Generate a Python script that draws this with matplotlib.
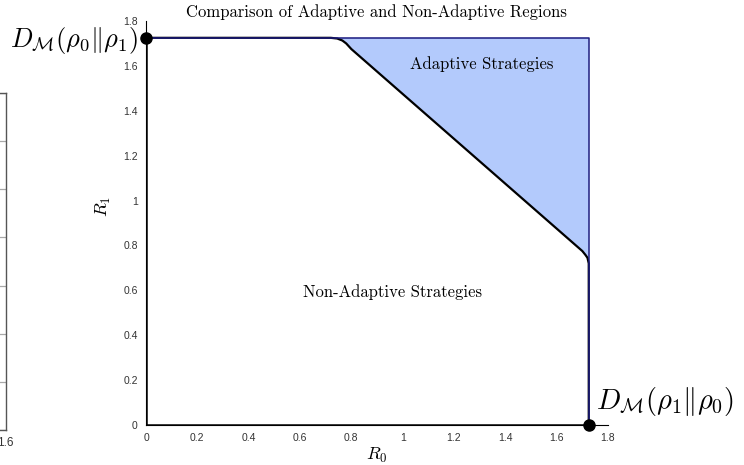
import matplotlib
matplotlib.use("Agg")
import matplotlib.pyplot as plt

plt.rcParams['mathtext.fontset'] = 'cm'
plt.rcParams['axes.unicode_minus'] = False

# divergence value at both ends of the region
D = 1.725

# non-adaptive boundary (R0, R1)
curve_r0 = [0.0, 0.72, 0.745, 0.765, 0.78, 0.80, 1.0, 1.2, 1.4, 1.6, 1.68, 1.70, 1.712, 1.72, 1.725, 1.725]
curve_r1 = [1.725, 1.725, 1.722, 1.713, 1.70, 1.675, 1.475, 1.275, 1.075, 0.875, 0.795, 0.775, 0.758, 0.745, 0.72, 0.0]

tick_vals = [0, 0.2, 0.4, 0.6, 0.8, 1.0, 1.2, 1.4, 1.6, 1.8]
tick_labels = ['0', '0.2', '0.4', '0.6', '0.8', '1', '1.2', '1.4', '1.6', '1.8']

title = 'Comparison of Adaptive and Non-Adaptive Regions'
label_top = r'$D_{\mathcal{M}}(\rho_0\|\rho_1)$'
label_bottom = r'$D_{\mathcal{M}}(\rho_1\|\rho_0)$'

# neighbouring panel that is cut off at the left edge
left_xlim = (0, 1.6)
left_ylim = (0, 7)

W, H = 744, 465
fig = plt.figure(figsize=(W / 100, H / 100), dpi=100)

# --- clipped neighbour panel ---
axl = fig.add_axes([-0.4, 35 / H, 0.4 + 5.5 / W, (430 - 93) / H])
axl.set_xlim(*left_xlim)
axl.set_ylim(*left_ylim)
axl.set_yticks(range(left_ylim[1] + 1))
axl.yaxis.grid(True, color='#a8a8a8', lw=0.9)
axl.set_yticklabels([])
axl.set_xticks([1.6])
axl.set_xticklabels(['1.6'], fontname='Liberation Sans', fontsize=8.5, color='#333333')
axl.tick_params(length=0, pad=5)
for s in axl.spines.values():
    s.set_color('#555555')
    s.set_linewidth(1.0)

# --- main panel ---
ax = fig.add_axes([146 / W, 40 / H, 462 / W, 404 / H])
ax.set_xlim(0, 1.8)
ax.set_ylim(0, 1.8)
ax.spines['top'].set_visible(False)
ax.spines['right'].set_visible(False)
ax.spines['left'].set_linewidth(0.8)
ax.spines['bottom'].set_linewidth(0.8)

# adaptive region fill: between the boundary curve and the corner (D, D)
poly_x = curve_r0[1:-1] + [D]
poly_y = curve_r1[1:-1] + [D]
ax.fill(poly_x, poly_y, facecolor='#b3cafc', edgecolor='none', zorder=1)

# non-adaptive boundary
ax.plot(curve_r0, curve_r1, color='black', lw=1.6, zorder=3, solid_capstyle='butt')
ax.plot([0, 0], [0, D], color='black', lw=1.8, zorder=3)
ax.plot([0, D], [0, 0], color='black', lw=1.8, zorder=3)
# outer edge of adaptive region
ax.plot([0, D, D], [D, D, 0], color='#1c1c80', lw=1.1, zorder=4)

ax.plot([0, D], [D, 0], 'o', color='black', ms=8, zorder=5, clip_on=False)

ax.text(-0.03, 1.715, label_top, fontsize=19, ha='right', va='center')
ax.text(1.753, 0.105, label_bottom, fontsize=20.5, ha='left', va='center')

ax.text(1.31, 1.61, 'Adaptive Strategies', fontname='cmr10', fontsize=12,
        ha='center', va='center')
ax.text(0.96, 0.593, 'Non-Adaptive Strategies', fontname='cmr10', fontsize=12,
        ha='center', va='center')

ax.set_xticks(tick_vals)
ax.set_xticklabels(tick_labels)
ax.set_yticks(tick_vals)
ax.set_yticklabels(tick_labels)
for lab in ax.get_xticklabels() + ax.get_yticklabels():
    lab.set_fontname('Liberation Sans')
ax.tick_params(which='major', length=0, labelsize=7.5, colors='#333333', pad=6)
ax.set_xticks([1.8], minor=True)
ax.set_yticks([1.8], minor=True)
ax.tick_params(which='minor', direction='in', length=4, width=0.8)

ax.set_xlabel(r'$R_0$', fontsize=13, labelpad=2)
ax.set_ylabel(r'$R_1$', fontsize=13, labelpad=8)
ax.yaxis.set_label_coords(-0.072, 0.54)
ax.set_title(title, fontname='cmr10', fontsize=12, pad=3)

fig.savefig('out.png', dpi=100)
